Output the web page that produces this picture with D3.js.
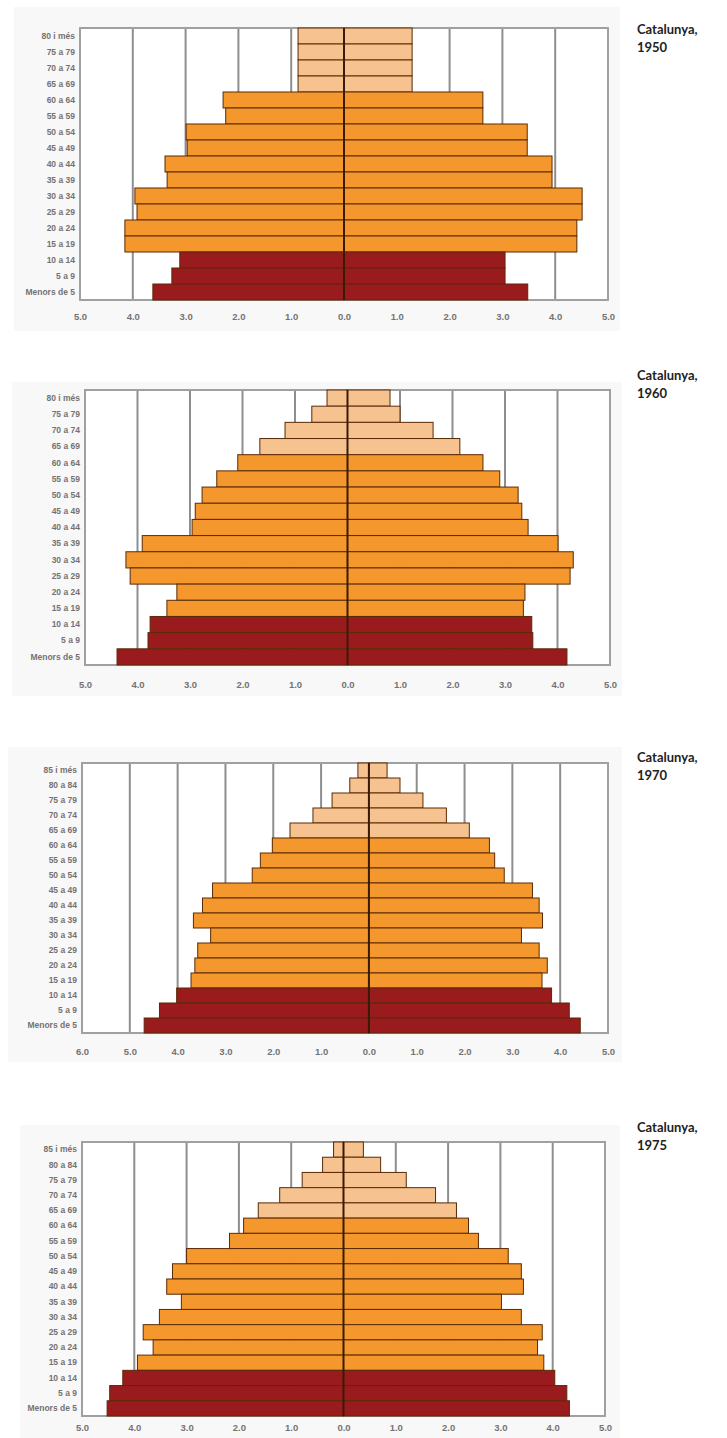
<!DOCTYPE html>
<html>
<head>
<meta charset="utf-8">
<script src="https://cdn.jsdelivr.net/npm/d3@7"></script>
<style>
  html, body { margin: 0; padding: 0; background: #ffffff; }
  svg { display: block; }
</style>
</head>
<body>
<svg id="chart" width="727" height="1438"></svg>
<script>
// ---------- DATA ----------
const ages17 = ["80 i més","75 a 79","70 a 74","65 a 69","60 a 64","55 a 59","50 a 54","45 a 49","40 a 44","35 a 39","30 a 34","25 a 29","20 a 24","15 a 19","10 a 14","5 a 9","Menors de 5"];
const ages18 = ["85 i més","80 a 84","75 a 79","70 a 74","65 a 69","60 a 64","55 a 59","50 a 54","45 a 49","40 a 44","35 a 39","30 a 34","25 a 29","20 a 24","15 a 19","10 a 14","5 a 9","Menors de 5"];
const groups17 = ["old","old","old","old","work","work","work","work","work","work","work","work","work","work","young","young","young"];
const groups18 = ["old","old","old","old","old","work","work","work","work","work","work","work","work","work","work","young","young","young"];

const years = ["1950","1960","1970","1975"];

// left side (%) and right side (%) per age group, top row first
const left1950  = [0.87,0.87,0.87,0.87,2.29,2.24,2.99,2.97,3.39,3.35,3.96,3.92,4.15,4.15,3.11,3.26,3.62];
const right1950 = [1.29,1.29,1.29,1.29,2.63,2.63,3.47,3.47,3.94,3.94,4.51,4.51,4.41,4.41,3.05,3.05,3.48];

const left1960  = [0.39,0.68,1.19,1.67,2.09,2.49,2.77,2.90,2.96,3.91,4.22,4.14,3.25,3.44,3.76,3.80,4.39];
const right1960 = [0.81,1.00,1.63,2.14,2.58,2.90,3.25,3.32,3.44,4.01,4.30,4.24,3.38,3.35,3.51,3.53,4.18];

const left1970  = [0.23,0.40,0.77,1.17,1.65,2.02,2.27,2.44,3.27,3.48,3.67,3.31,3.58,3.64,3.72,4.02,4.38,4.70];
const right1970 = [0.38,0.65,1.13,1.62,2.10,2.52,2.63,2.83,3.42,3.56,3.63,3.19,3.56,3.73,3.62,3.82,4.19,4.42];

const left1975  = [0.19,0.40,0.79,1.22,1.63,1.91,2.18,3.00,3.27,3.38,3.10,3.52,3.83,3.64,3.94,4.22,4.47,4.52];
const right1975 = [0.38,0.71,1.20,1.76,2.16,2.39,2.58,3.15,3.40,3.44,3.02,3.40,3.80,3.71,3.83,4.04,4.27,4.32];

const domains = [[-5,5],[-5,5],[-6,5],[-5,5]];

// ---------- LAYOUT ----------
const panels = [
  { year: years[0], ages: ages17, groups: groups17, left: left1950, right: right1950, domain: domains[0],
    bg: [14, 7, 606, 324], frame: [80, 28, 608, 300], tickY: 318, titleY: 34 },
  { year: years[1], ages: ages17, groups: groups17, left: left1960, right: right1960, domain: domains[1],
    bg: [12, 382, 610, 314], frame: [85, 390, 610, 665], tickY: 686, titleY: 380 },
  { year: years[2], ages: ages18, groups: groups18, left: left1970, right: right1970, domain: domains[2],
    bg: [8, 747, 614, 315], frame: [82, 763, 608, 1033], tickY: 1053, titleY: 762 },
  { year: years[3], ages: ages18, groups: groups18, left: left1975, right: right1975, domain: domains[3],
    bg: [20, 1125, 600, 313], frame: [82, 1142, 605, 1416], tickY: 1429, titleY: 1132 }
];

const colors = { old: "#f6c28f", work: "#f4982e", young: "#9a1b1e" };

const svg = d3.select("#chart");

panels.forEach(p => {
  const g = svg.append("g");
  const [fx0, fy0, fx1, fy1] = p.frame;

  // outer chart-area background
  g.append("rect")
    .attr("x", p.bg[0]).attr("y", p.bg[1])
    .attr("width", p.bg[2]).attr("height", p.bg[3])
    .attr("fill", "#f9f8f8");

  // plot area
  g.append("rect")
    .attr("x", fx0).attr("y", fy0)
    .attr("width", fx1 - fx0).attr("height", fy1 - fy0)
    .attr("fill", "#ffffff");

  const x = d3.scaleLinear().domain(p.domain).range([fx0, fx1]);
  const y = d3.scaleBand().domain(p.ages).range([fy0, fy1]).padding(0);

  const ticks = d3.range(p.domain[0], p.domain[1] + 1);

  // gridlines
  g.append("g").selectAll("line")
    .data(ticks.filter(t => t !== 0 && t !== p.domain[0] && t !== p.domain[1]))
    .join("line")
    .attr("x1", d => x(d)).attr("x2", d => x(d))
    .attr("y1", fy0).attr("y2", fy1)
    .attr("stroke", "#8e8e8e").attr("stroke-width", 2);

  // frame
  g.append("rect")
    .attr("x", fx0).attr("y", fy0)
    .attr("width", fx1 - fx0).attr("height", fy1 - fy0)
    .attr("fill", "none").attr("stroke", "#a0a0a0").attr("stroke-width", 2);

  const rows = p.ages.map((a, i) => ({ age: a, group: p.groups[i], l: p.left[i], r: p.right[i] }));

  // left bars
  g.append("g").selectAll("rect")
    .data(rows).join("rect")
    .attr("x", d => x(-d.l)).attr("y", d => y(d.age))
    .attr("width", d => x(0) - x(-d.l)).attr("height", y.bandwidth())
    .attr("fill", d => colors[d.group])
    .attr("stroke", "#5a2a05").attr("stroke-width", 1);

  // right bars
  g.append("g").selectAll("rect")
    .data(rows).join("rect")
    .attr("x", x(0)).attr("y", d => y(d.age))
    .attr("width", d => x(d.r) - x(0)).attr("height", y.bandwidth())
    .attr("fill", d => colors[d.group])
    .attr("stroke", "#5a2a05").attr("stroke-width", 1);

  // center line
  g.append("line")
    .attr("x1", x(0)).attr("x2", x(0))
    .attr("y1", fy0).attr("y2", fy1)
    .attr("stroke", "#3a1a05").attr("stroke-width", 2);

  // y axis labels
  const ya = d3.axisLeft(y).tickSize(0).tickPadding(5);
  const yg = g.append("g").attr("transform", `translate(${fx0},0)`).call(ya);
  yg.select(".domain").remove();
  yg.selectAll("text")
    .attr("font-family", "Liberation Sans, Arial, sans-serif")
    .attr("font-size", 8.5).attr("font-weight", "bold").attr("fill", "#737373");

  // x axis labels
  const xa = d3.axisBottom(x).tickValues(ticks).tickSize(0).tickPadding(0)
    .tickFormat(d => Math.abs(d).toFixed(1));
  const xg = g.append("g").attr("transform", `translate(0,${p.tickY - 5})`).call(xa);
  xg.select(".domain").remove();
  xg.selectAll("text")
    .attr("font-family", "Liberation Sans, Arial, sans-serif")
    .attr("font-size", 9.5).attr("font-weight", "bold").attr("fill", "#737373");

  // title
  const t = g.append("text")
    .attr("x", 637).attr("y", p.titleY)
    .attr("font-family", "Lato, 'Open Sans', sans-serif")
    .attr("font-weight", "bold").attr("font-size", 13).attr("fill", "#222");
  t.append("tspan").attr("x", 637).attr("dy", 0).text("Catalunya,");
  t.append("tspan").attr("x", 637).attr("dy", 18).text(p.year);
});
</script>
</body>
</html>
